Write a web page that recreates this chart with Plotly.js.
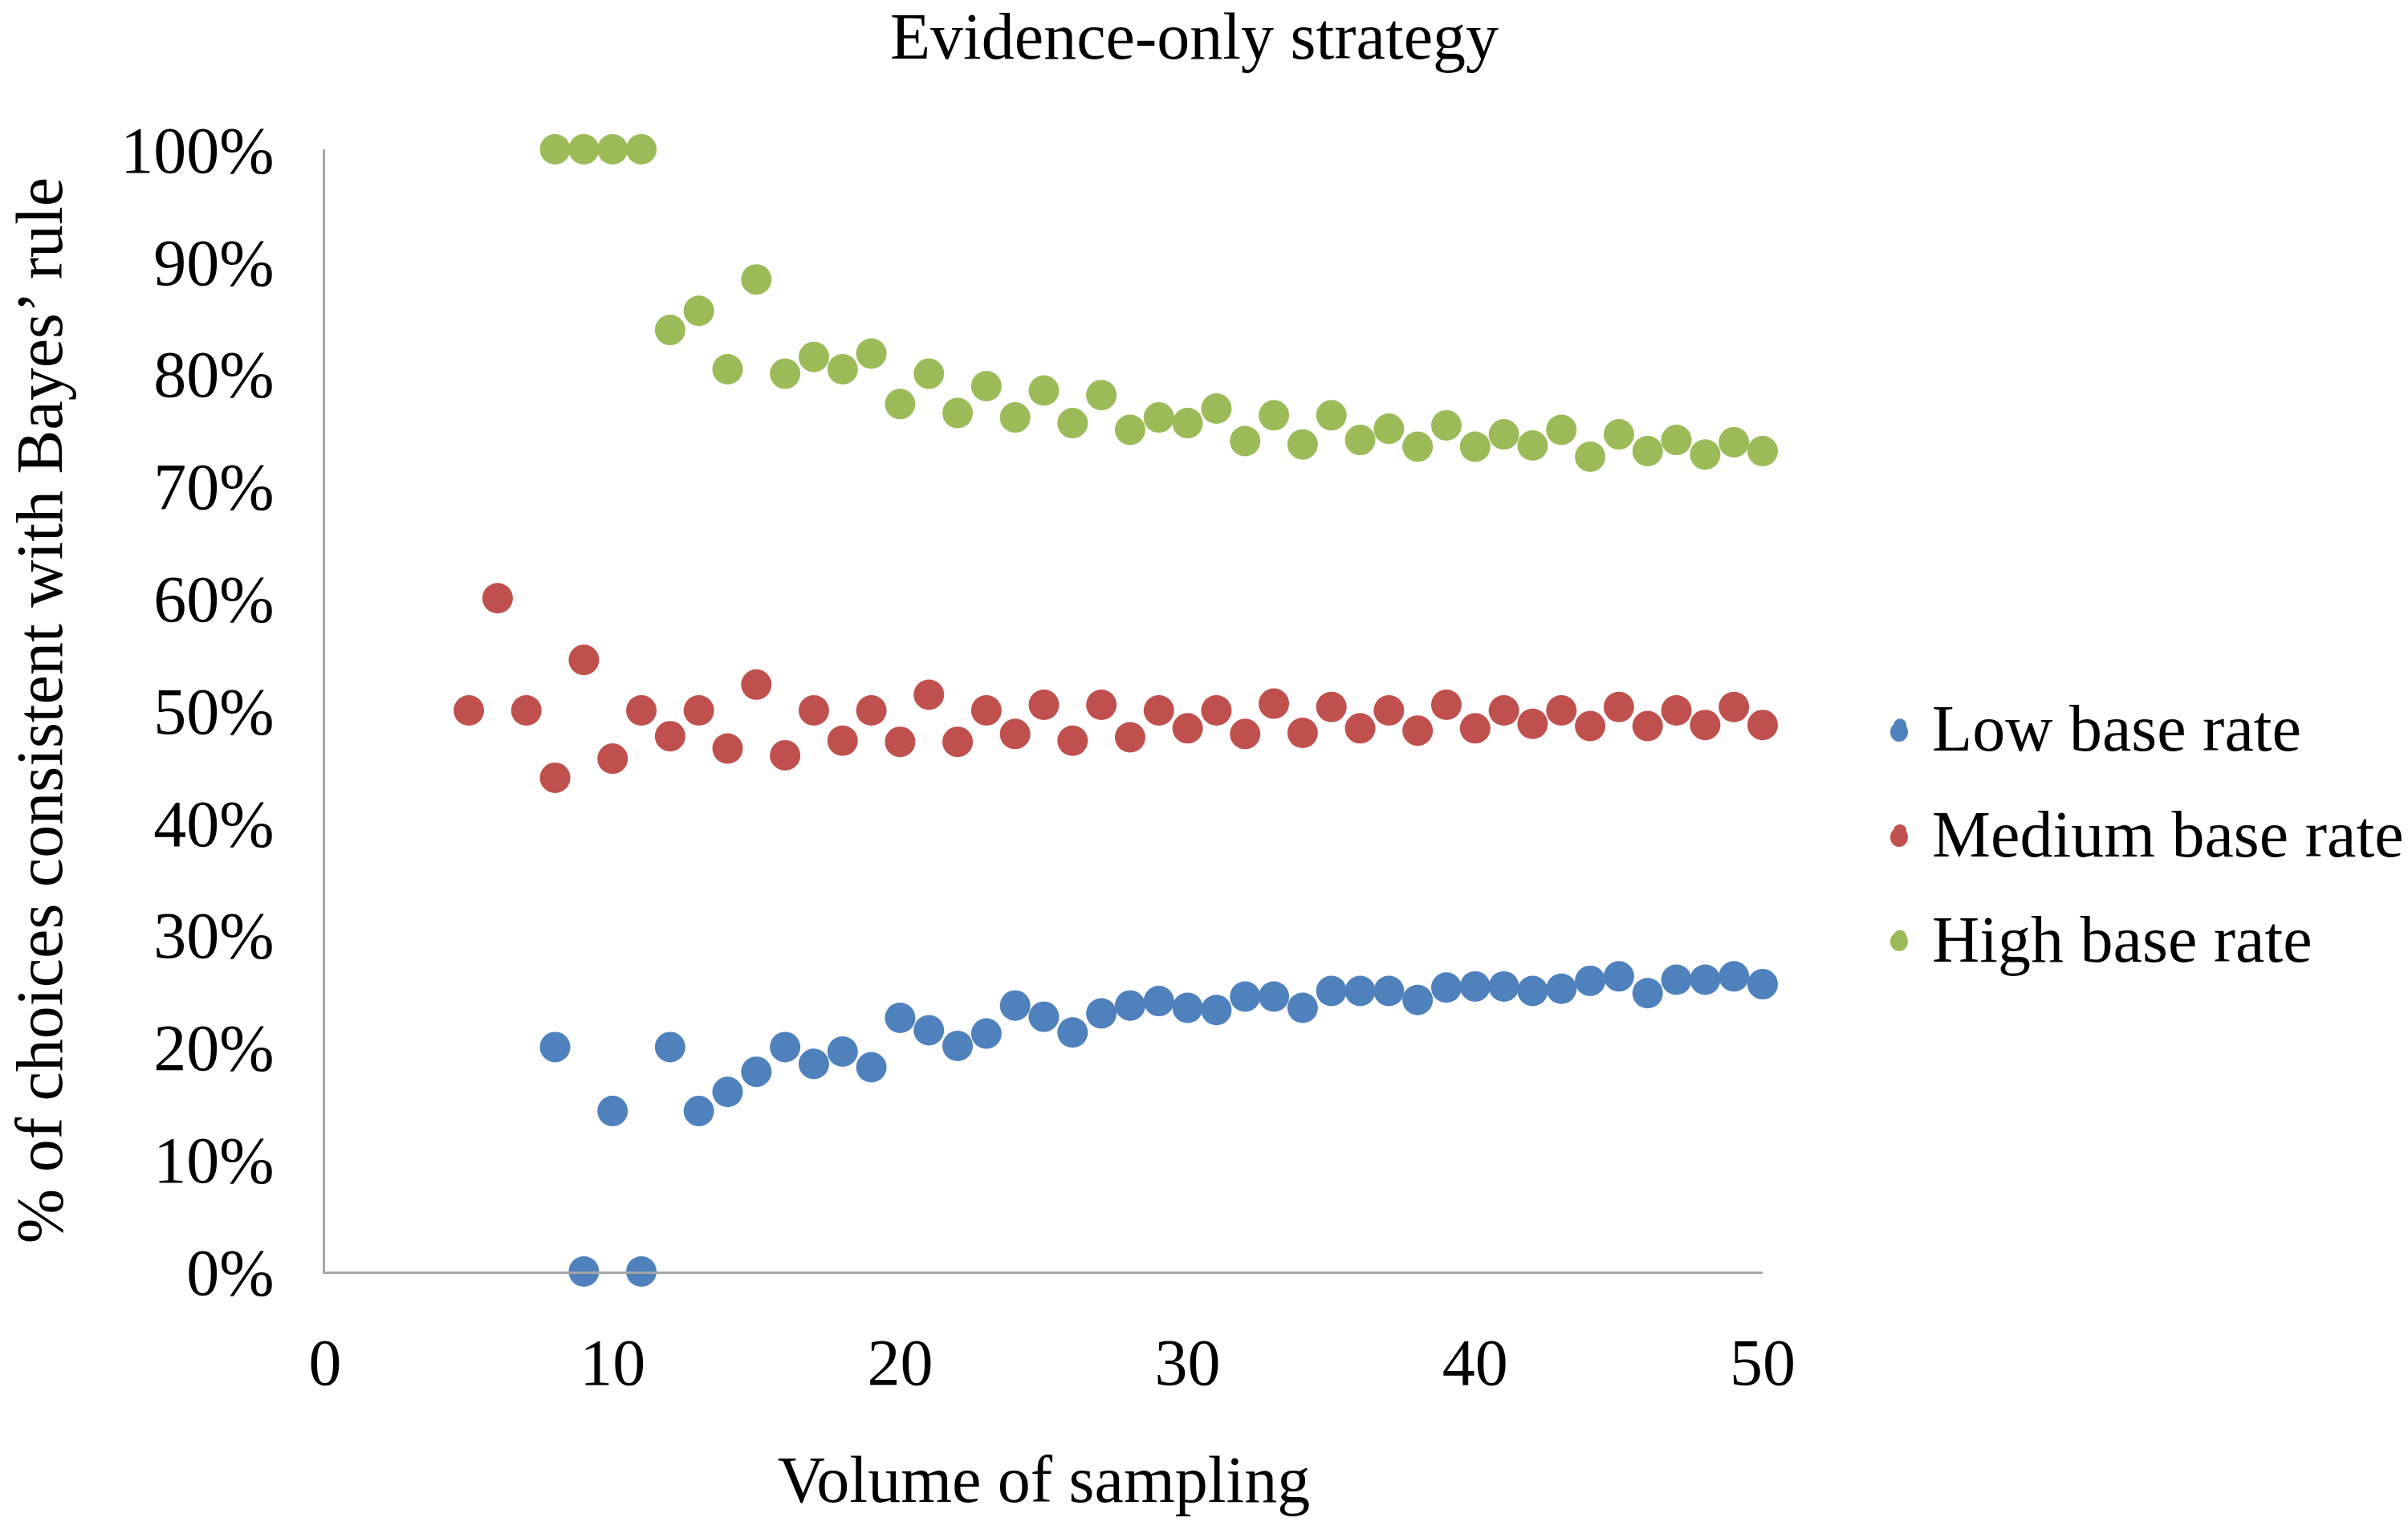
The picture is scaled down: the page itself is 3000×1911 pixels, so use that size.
<!DOCTYPE html>
<html>
<head>
<meta charset="utf-8">
<script src="https://cdn.plot.ly/plotly-3.0.1.min.js"></script>
<style>
  html, body { margin: 0; padding: 0; background: #fff; }
  #chart { width: 3000px; height: 1911px; }
</style>
</head>
<body>
<div id="chart"></div>
<script>
// volume of sampling (x) for each series
var lowX = [8, 9, 10, 11, 12, 13, 14, 15, 16, 17, 18, 19, 20, 21, 22, 23, 24, 25, 26, 27, 28, 29,
            30, 31, 32, 33, 34, 35, 36, 37, 38, 39, 40, 41, 42, 43, 44, 45, 46, 47, 48, 49, 50];
var lowY = [0.20, 0, 0.143, 0, 0.20, 0.143, 0.16, 0.178, 0.20, 0.185, 0.196, 0.182, 0.226, 0.215,
            0.201, 0.212, 0.237, 0.227, 0.213, 0.230, 0.237, 0.241, 0.235, 0.233, 0.245, 0.245,
            0.235, 0.250, 0.250, 0.250, 0.242, 0.253, 0.254, 0.254, 0.250, 0.252, 0.259, 0.263,
            0.248, 0.260, 0.260, 0.263, 0.256];

var medX = [5, 6, 7, 8, 9, 10, 11, 12, 13, 14, 15, 16, 17, 18, 19, 20, 21, 22, 23, 24, 25, 26, 27,
            28, 29, 30, 31, 32, 33, 34, 35, 36, 37, 38, 39, 40, 41, 42, 43, 44, 45, 46, 47, 48, 49, 50];
var medY = [0.50, 0.60, 0.50, 0.44, 0.545, 0.457, 0.50, 0.477, 0.50, 0.466, 0.523, 0.460, 0.50,
            0.473, 0.50, 0.472, 0.514, 0.472, 0.50, 0.479, 0.505, 0.473, 0.505, 0.476, 0.50,
            0.484, 0.50, 0.479, 0.506, 0.480, 0.503, 0.484, 0.50, 0.482, 0.505, 0.484, 0.50,
            0.488, 0.50, 0.486, 0.503, 0.486, 0.50, 0.487, 0.503, 0.487];

var highX = [8, 9, 10, 11, 12, 13, 14, 15, 16, 17, 18, 19, 20, 21, 22, 23, 24, 25, 26, 27, 28, 29,
             30, 31, 32, 33, 34, 35, 36, 37, 38, 39, 40, 41, 42, 43, 44, 45, 46, 47, 48, 49, 50];
var highY = [1, 1, 1, 1, 0.839, 0.856, 0.804, 0.884, 0.80, 0.815, 0.804, 0.818, 0.773, 0.80,
             0.765, 0.789, 0.761, 0.785, 0.756, 0.781, 0.75, 0.761, 0.756, 0.769, 0.74, 0.763,
             0.737, 0.763, 0.741, 0.751, 0.735, 0.754, 0.735, 0.746, 0.736, 0.75, 0.726, 0.746,
             0.731, 0.741, 0.728, 0.739, 0.731];

var seriesNames = ['Low base rate', 'Medium base rate', 'High base rate'];
var seriesColors = ['#4F81BD', '#C0504D', '#9BBB59'];
var xTicks = [0, 10, 20, 30, 40, 50];

var serif = 'Liberation Serif, Times New Roman, serif';

var xs = [lowX, medX, highX];
var ys = [lowY, medY, highY];
var data = [];
for (var i = 0; i < 3; i++) {
  data.push({
    type: 'scatter',
    mode: 'markers',
    name: seriesNames[i],
    legendgroup: 'g' + i,
    x: xs[i],
    y: ys[i],
    cliponaxis: false,
    marker: { color: seriesColors[i], size: 38, line: { width: 0 } }
  });
}

// plotly caps legend symbols at a small size, so draw bigger dots over them
var legendRowsY = [0.4807, 0.387, 0.294];
var shapes = [];
for (var k = 0; k < 3; k++) {
  shapes.push({
    type: 'circle', layer: 'above',
    xref: 'paper', yref: 'paper',
    xsizemode: 'pixel', ysizemode: 'pixel',
    xanchor: 1.0949, yanchor: legendRowsY[k],
    x0: -11, x1: 11, y0: -12, y1: 12,
    fillcolor: seriesColors[k], line: { width: 0 }
  });
}

var layout = {
  width: 3000,
  height: 1911,
  paper_bgcolor: '#fff',
  plot_bgcolor: '#fff',
  font: { family: serif, size: 82, color: '#000' },
  margin: { l: 405, r: 804, t: 186, b: 327 },
  title: {
    text: 'Evidence-only strategy',
    font: { family: serif, size: 82, color: '#000' },
    x: 0.496, xanchor: 'center',
    y: 0.977, yanchor: 'middle'
  },
  xaxis: {
    range: [0, 50],
    tickvals: xTicks,
    showgrid: false,
    zeroline: false,
    showline: true,
    linecolor: '#A6A6A6',
    linewidth: 3,
    ticks: '',
    ticklabelstandoff: 40,
    tickfont: { family: serif, size: 82 },
    title: { text: 'Volume of sampling', font: { family: serif, size: 82 }, standoff: 72 }
  },
  yaxis: {
    range: [0, 1],
    dtick: 0.1,
    tickformat: '.0%',
    showgrid: false,
    zeroline: false,
    showline: true,
    linecolor: '#A6A6A6',
    linewidth: 3,
    ticks: '',
    ticklabelstandoff: 44,
    tickfont: { family: serif, size: 82 },
    title: { text: '% of choices consistent with Bayes\u2019 rule', font: { family: serif, size: 82 }, standoff: 46 }
  },
  shapes: shapes,
  showlegend: true,
  legend: {
    xref: 'container', yref: 'container',
    x: 0.7757, xanchor: 'left',
    y: 0.4584, yanchor: 'middle',
    font: { family: serif, size: 82 },
    traceorder: 'grouped',
    tracegroupgap: 22,
    itemsizing: 'trace',
    itemwidth: 70,
    bgcolor: 'rgba(0,0,0,0)'
  }
};

Plotly.newPlot('chart', data, layout, { displayModeBar: false, staticPlot: true });
</script>
</body>
</html>
